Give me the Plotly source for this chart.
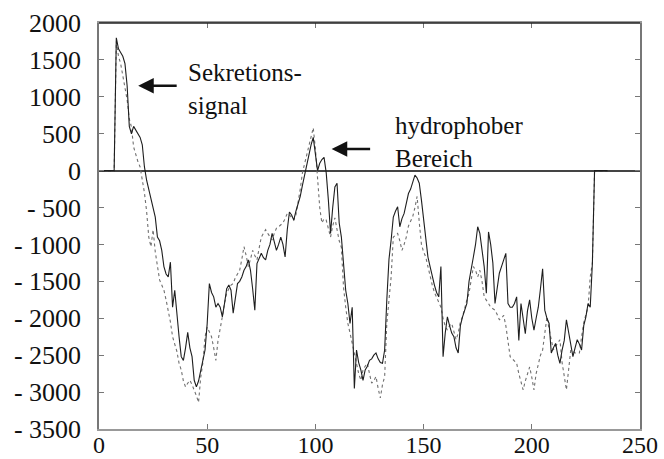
import plotly.graph_objects as go

x_pos = list(range(0, 236))

solid = [0, 0, 0, 0, 0, 0, 0, 0, 1800, 1650,
         1600, 1550, 1450, 1150, 600, 500, 600, 550, 500, 450,
         350, 50, -130, -250, -350, -490, -630, -900, -950, -1080,
         -1300, -1400, -1440, -1240, -1850, -1620, -1980, -2250, -2520, -2570,
         -2400, -2190, -2400, -2520, -2840, -2930, -2850, -2700, -2550, -2430,
         -2070, -1530, -1650, -1710, -1850, -1800, -1850, -1980, -1800, -1600,
         -1550, -1620, -1930, -1700, -1530, -1500, -1440, -1350, -1300, -1210,
         -1350, -1600, -1890, -1260, -1200, -1120, -1180, -1210, -1080, -1000,
         -850, -950, -1080, -1000, -900, -1000, -1170, -800, -560, -600,
         -670, -550, -450, -350, -200, -50, 100, 250, 350, 450,
         250, 0, 100, 150, 180, -30, -400, -850, -500, -220,
         -170, -710, -900, -1300, -1620, -1800, -2070, -1850, -2950, -2430,
         -2600, -2700, -2840, -2700, -2650, -2570, -2550, -2500, -2470, -2550,
         -2600, -2610, -2430, -1750, -1200, -940, -630, -550, -490, -760,
         -650, -580, -450, -310, -250, -150, -60, -100, -170, -400,
         -670, -900, -1170, -1300, -1440, -1550, -1650, -1710, -1300, -2520,
         -2200, -1980, -2100, -2200, -2250, -2400, -2470, -2100, -1980, -1900,
         -1800, -1500, -1300, -1170, -1000, -760, -850, -1080, -1300, -1660,
         -830, -1000, -1250, -1800, -1600, -1390, -1300, -1200, -1120, -1800,
         -1850, -1850, -1800, -1710, -2300, -1800, -2000, -2210, -1900, -1750,
         -2000, -2160, -2000, -1850, -1600, -1330, -1890, -2000, -2070, -2470,
         -2400, -2340, -2500, -2610, -2430, -2300, -2020, -2200, -2400, -2520,
         -2400, -2290, -2350, -2430, -2100, -1980, -1800, -1850, -1250, 0,
         0, 0, 0, 0, 0, 0]

dotted = [0, 0, 0, 0, 0, 0, 0, 0, 1750, 1550,
          1450, 1270, 1100, 960, 700, 590, 320, 200, 120, 50,
          -100, -300, -550, -900, -1030, -800, -1100, -1300, -1480, -1550,
          -1620, -1750, -1890, -2050, -2250, -2350, -2450, -2610, -2700, -2850,
          -2930, -2880, -2840, -2900, -2970, -3050, -3140, -2800, -2600, -2250,
          -2120, -2180, -2250, -2400, -2570, -2300, -2160, -1980, -1800, -1660,
          -1600, -1550, -1530, -1450, -1400, -1350, -1200, -1030, -1150, -1300,
          -1200, -1080, -1150, -1210, -1050, -900, -850, -800, -850, -900,
          -940, -850, -780, -760, -730, -710, -650, -580, -600, -640,
          -670, -600, -450, -250, -30, 100, 230, 350, 480, 580,
          300, -170, -500, -710, -650, -670, -800, -900, -750, -640,
          -800, -950, -1040, -1580, -1850, -2070, -2200, -2340, -2500, -2660,
          -2750, -2840, -2700, -2650, -2610, -2750, -2880, -2850, -2790, -2950,
          -3080, -2900, -2790, -2070, -1700, -1440, -900, -870, -850, -950,
          -1080, -1000, -900, -750, -680, -620, -500, -350, -700, -1000,
          -1100, -1170, -1300, -1440, -1550, -1650, -1710, -1780, -1850, -2000,
          -2110, -2160, -2100, -2070, -2200, -2290, -2200, -2050, -1980, -1850,
          -1750, -1660, -1450, -1300, -1350, -1440, -1350, -1500, -1710, -1750,
          -1800, -1850, -1870, -1890, -1950, -2020, -2000, -1960, -2100, -2300,
          -2520, -2550, -2580, -2610, -2750, -2850, -2970, -2850, -2750, -2660,
          -2800, -2970, -2750, -2600, -2500, -2430, -2200, -1980, -2150, -2300,
          -2430, -2380, -2330, -2290, -2600, -2800, -2970, -2700, -2430, -2450,
          -2470, -2470, -2470, -2250, -2060, -1950, -1850, -1440, -1250, 0,
          0, 0, 0, 0, 0, 0]

y_ticks = [2000, 1500, 1000, 500, 0, -500, -1000, -1500, -2000, -2500, -3000, -3500]
y_tick_text = ["2000", "1500", "1000", "500", "0", "- 500", "- 1000", "- 1500",
               "- 2000", "- 2500", "- 3000", "- 3500"]
x_ticks = [0, 50, 100, 150, 200, 250]

label_signal = "Sekretions-<br>signal"
label_hydro = "hydrophober<br>Bereich"

FONT = "Liberation Serif"
TXT = "#111111"

fig = go.Figure()
fig.add_trace(go.Scatter(x=x_pos, y=dotted, mode="lines",
                         line=dict(color="#707070", width=1.1, dash="dot"),
                         showlegend=False, hoverinfo="skip"))
fig.add_trace(go.Scatter(x=x_pos, y=solid, mode="lines",
                         line=dict(color="#1e1e1e", width=1.1),
                         showlegend=False, hoverinfo="skip"))

# arrows
fig.add_annotation(x=18.1, y=1150, ax=40, ay=0, text="", showarrow=True,
                   arrowhead=2, arrowsize=1.2, arrowwidth=2.6, arrowcolor="#111111")
fig.add_annotation(x=107.5, y=293, ax=40, ay=0, text="", showarrow=True,
                   arrowhead=2, arrowsize=1.2, arrowwidth=2.6, arrowcolor="#111111")
# labels
fig.add_annotation(x=40.2, y=1110, text=label_signal, showarrow=False,
                   xanchor="left", yanchor="middle", align="left",
                   font=dict(family=FONT, size=25, color=TXT))
fig.add_annotation(x=135.9, y=385, text=label_hydro, showarrow=False,
                   xanchor="left", yanchor="middle", align="left",
                   font=dict(family=FONT, size=25, color=TXT))

# darker top frame edge
fig.add_shape(type="line", xref="paper", yref="paper", x0=0, x1=1, y0=1, y1=1,
              line=dict(color="#222222", width=1.5))

fig.update_layout(
    width=664, height=459,
    margin=dict(l=99, r=24, t=23, b=30, autoexpand=False),
    paper_bgcolor="white", plot_bgcolor="white",
    font=dict(family=FONT, size=26, color=TXT),
    showlegend=False,
)
fig.update_xaxes(range=[0, 250], tickvals=x_ticks, ticks="inside", ticklen=5,
                 tickcolor="#777777", showline=True, linecolor="#999999", linewidth=1.5,
                 mirror="ticks", showgrid=False, zeroline=False, automargin=False,
                 ticklabelstandoff=-7,
                 tickfont=dict(family=FONT, size=24, color=TXT))
fig.update_yaxes(range=[-3500, 2000], tickvals=y_ticks, ticktext=y_tick_text,
                 ticks="inside", ticklen=5, tickcolor="#777777", showline=True,
                 linecolor="#777777", linewidth=1.5, mirror="ticks", showgrid=False,
                 zeroline=True, zerolinecolor="#444444", zerolinewidth=1.5,
                 automargin=False, ticklabelstandoff=11,
                 tickfont=dict(family=FONT, size=26, color=TXT))

fig.write_html("out.html")
